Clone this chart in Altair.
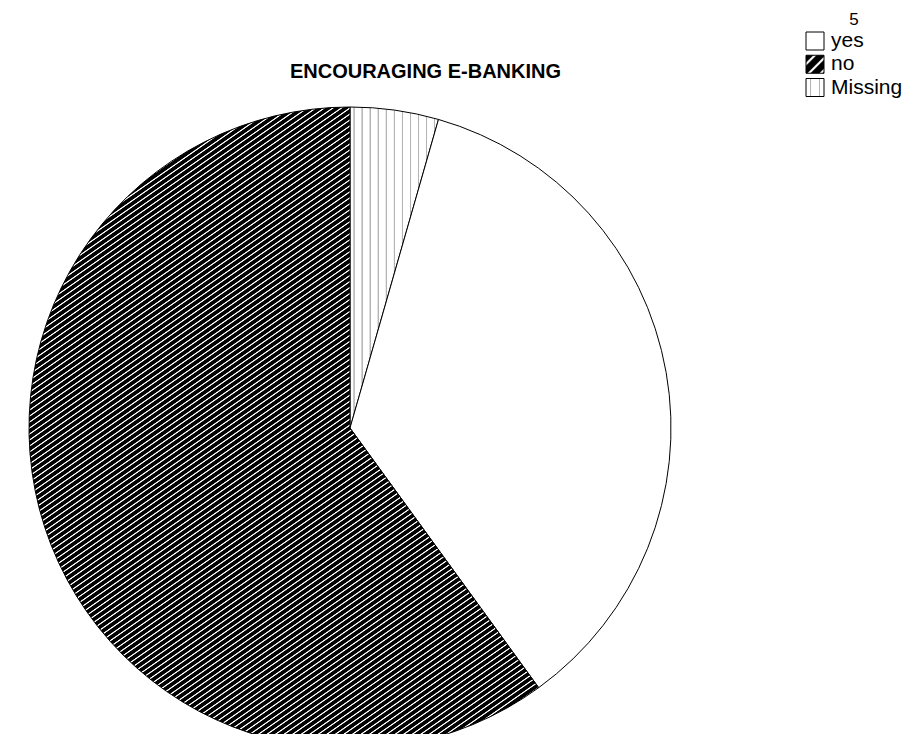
import math
import altair as alt
import pandas as pd

# ---------------- data ----------------
TITLE = "ENCOURAGING E-BANKING"
LEGEND_TITLE = "5"
categories = ["Missing", "yes", "no"]      # drawing order, clockwise from 12 o'clock
counts = [4, 32, 54]
legend_order = ["yes", "no", "Missing"]

df = pd.DataFrame({"category": categories, "count": counts,
                   "order": list(range(len(categories)))})
legend_df = pd.DataFrame({"category": legend_order})

# ---------------- style ----------------
CX, CY, R = 350, 428, 321
FONT = "Liberation Sans"
SYM = 18


def slice_bbox(a0, a1):
    """bounding box (pixel) of a pie slice between fractions a0..a1 (clockwise from top)"""
    pts = [(CX, CY)]
    angs = [a0 * 2 * math.pi, a1 * 2 * math.pi]
    for k in range(5):
        q = k * math.pi / 2
        if angs[0] < q < angs[1]:
            angs.append(q)
    for a in angs:
        pts.append((CX + R * math.sin(a), CY - R * math.cos(a)))
    xs = [p[0] for p in pts]
    ys = [p[1] for p in pts]
    return max(xs) - min(xs), max(ys) - min(ys)


def stripes(W, H, nx, ny, period_px, profile):
    """linear gradient whose bands are perpendicular to pixel normal (nx, ny)"""
    c = (W * nx + H * ny) / (W * W * nx * nx + H * H * ny * ny)
    dx, dy = W * nx * c, H * ny * c
    L = W * nx + H * ny
    n = max(1, round(L / period_px))
    stops = []
    for k in range(n):
        for f, col in profile:
            stops.append({"offset": round((k + f) / n, 6), "color": col})
    return {"gradient": "linear", "x1": 0, "y1": 0, "x2": dx, "y2": dy, "stops": stops}


HATCH = [(0.0, "black"), (0.55, "black"), (0.68, "white"), (0.80, "white"),
         (0.93, "black"), (1.0, "black")]
DOTS = [(0.0, "white"), (0.40, "white"), (0.45, "#b4b4b4"), (0.55, "#b4b4b4"),
        (0.60, "white"), (1.0, "white")]

total = sum(counts)
cum = 0
fills = {}
for cat, v in zip(categories, counts):
    a0, a1 = cum / total, (cum + v) / total
    cum += v
    W, H = slice_bbox(a0, a1)
    if cat == "no":
        ang = math.radians(35)
        fills[cat] = stripes(W, H, math.sin(ang), math.cos(ang), 4.9, HATCH)
    elif cat == "Missing":
        fills[cat] = stripes(W, H, 1.0, 0.0, 8.3, DOTS)
    else:
        fills[cat] = "white"

legend_fill = {
    "yes": "white",
    "no": stripes(SYM, SYM, math.sqrt(0.5), math.sqrt(0.5), 8.5, HATCH),
    "Missing": stripes(SYM, SYM, 1.0, 0.0, 9, DOTS),
}

# ---------------- pie ----------------
base = (
    alt.Chart(df)
    .transform_joinaggregate(total="sum(count)")
    .transform_window(cum="sum(count)", sort=[alt.SortField("order")], frame=[None, 0])
    .transform_calculate(start="(datum.cum - datum.count) / datum.total",
                         end="datum.cum / datum.total")
)
theta_scale = alt.Scale(domain=[0, 1], range=[0, 2 * math.pi])

layers = []
for cat in categories:
    layers.append(
        base.transform_filter(alt.datum.category == cat)
        .mark_arc(radius=R, fill=fills[cat], stroke="black", strokeWidth=1)
        .encode(theta=alt.Theta("start:Q", scale=theta_scale),
                theta2="end:Q", x=alt.value(CX), y=alt.value(CY))
    )

# ---------------- legend (drawn with marks) ----------------
leg_y = alt.Y("category:N", axis=None,
              scale=alt.Scale(type="point", domain=legend_order, range=[41, 87.5], padding=0))
lbase = alt.Chart(legend_df)
for cat in legend_order:
    layers.append(
        lbase.transform_filter(alt.datum.category == cat)
        .mark_square(size=SYM * SYM, fill=legend_fill[cat], stroke="black",
                     strokeWidth=1, opacity=1)
        .encode(y=leg_y, x=alt.value(815))
    )
layers.append(
    lbase.mark_text(align="left", baseline="middle", font=FONT, fontSize=21, color="black")
    .encode(y=leg_y, x=alt.value(831), text="category:N")
)
layers.append(
    alt.Chart(pd.DataFrame({"t": [LEGEND_TITLE]}))
    .mark_text(align="center", baseline="middle", font=FONT, fontSize=17, color="black")
    .encode(text="t:N", x=alt.value(854), y=alt.value(20))
)

chart = alt.layer(*layers).properties(
    width=909, height=734,
    autosize=alt.AutoSizeParams(type="none"),
    padding=0,
    background="white",
    title=alt.TitleParams(TITLE, font=FONT, fontSize=20, fontWeight="bold",
                          color="black", anchor="middle", orient="top",
                          frame="group", offset=-98, baseline="alphabetic", dx=-29),
).configure_view(stroke=None)

chart.save("out.html", embed_options={"renderer": "svg", "actions": False})
